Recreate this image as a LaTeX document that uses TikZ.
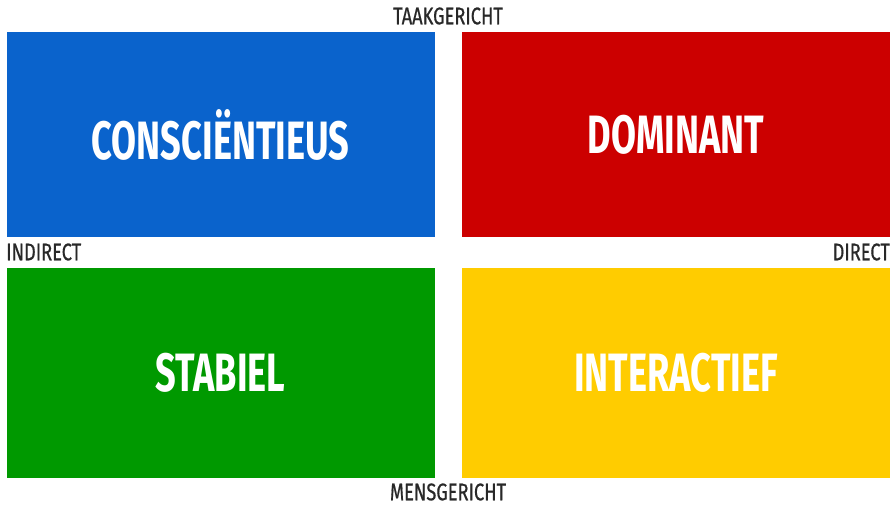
\documentclass[tikz,border=0pt]{standalone}
\usepackage{fontspec}
\newfontfamily\boxfont{Fira Sans}[FakeStretch=0.67]
\newfontfamily\axisfont{Fira Sans}[FakeStretch=0.76,FakeBold=0.6]
\definecolor{consblue}{RGB}{10,99,204}
\definecolor{domred}{RGB}{204,0,0}
\definecolor{stabgreen}{RGB}{0,153,0}
\definecolor{interyellow}{RGB}{255,204,0}
\definecolor{axisgrey}{RGB}{40,40,40}

\begin{document}
\begin{tikzpicture}[x=1pt,y=-1pt,
    quad/.style={minimum width=428pt,inner sep=0pt,text=white,
      font=\boxfont\bfseries\fontsize{54}{54}\selectfont},
    axis/.style={inner sep=0pt,text=axisgrey,
      font=\axisfont\fontsize{24}{24}\selectfont}]
      \useasboundingbox (0,0) rectangle (893,505);
      % the four quadrants
      \node[quad,fill=consblue,minimum height=205pt] (cons) at (220.5,134.5) {CONSCIËNTIEUS};
      \node[quad,fill=domred,minimum height=205pt] (dom) at (676,134.5) {DOMINANT};
      \node[quad,fill=stabgreen,minimum height=210pt] (stab) at (220.5,373) {STABIEL};
      \node[quad,fill=interyellow,minimum height=210pt] (inter) at (676,373) {INTERACTIEF};
      % axis labels
      \node[axis] (taak) at (448,16) {TAAKGERICHT};
      \node[axis] (mens) at (448,492) {MENSGERICHT};
      \node[axis,anchor=west] (indirect) at (6,252) {INDIRECT};
      \node[axis,anchor=east] (direct) at (890,252) {DIRECT};
    \end{tikzpicture}
\end{document}
